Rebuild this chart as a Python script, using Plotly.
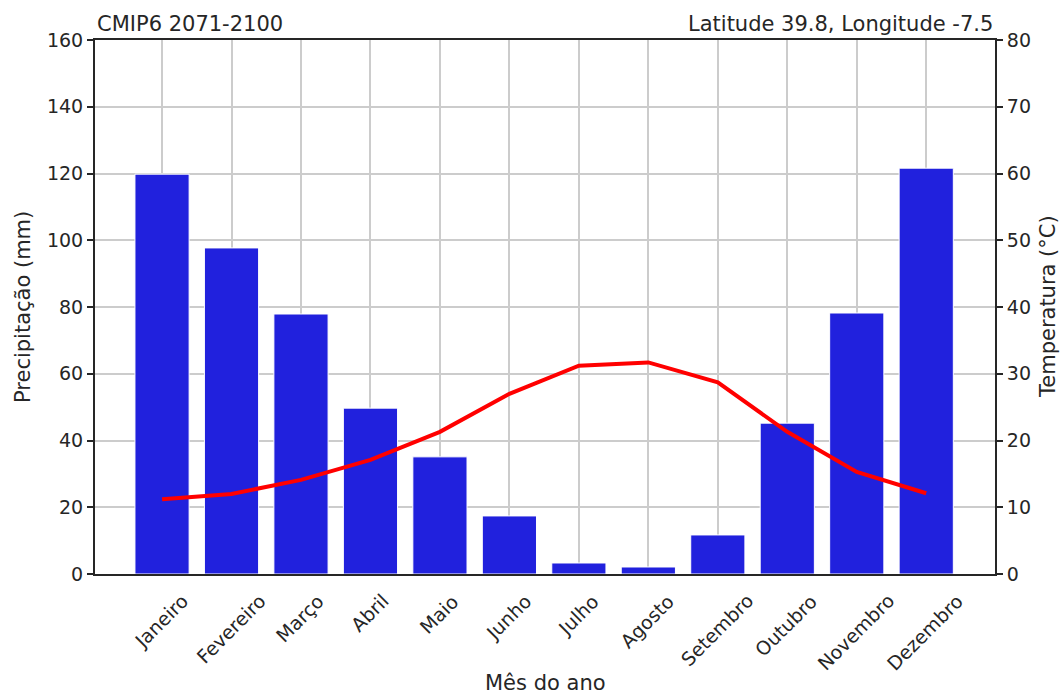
import plotly.graph_objects as go

months = ["Janeiro", "Fevereiro", "Março", "Abril", "Maio", "Junho", "Julho",
          "Agosto", "Setembro", "Outubro", "Novembro", "Dezembro"]
precip_mm = [119.8, 97.7, 77.9, 49.7, 35.1, 17.4, 3.3, 2.1, 11.7, 45.2, 78.2, 121.6]
temp_c = [11.2, 12.0, 14.1, 17.1, 21.3, 27.0, 31.2, 31.7, 28.7, 21.3, 15.3, 12.1]

left_ticks = [0, 20, 40, 60, 80, 100, 120, 140, 160]
right_ticks = [0, 10, 20, 30, 40, 50, 60, 70, 80]

FONT = "DejaVu Sans"
TXT = "#262626"
x_idx = list(range(len(months)))

fig = go.Figure()
fig.add_trace(go.Bar(
    x=x_idx, y=precip_mm, width=0.78,
    marker=dict(color="#2121dd", line=dict(color="#ffffff", width=1)),
    yaxis="y", showlegend=False,
))
fig.add_trace(go.Scatter(
    x=x_idx, y=temp_c, mode="lines",
    line=dict(color="#ff0000", width=4),
    yaxis="y2", showlegend=False,
))

annotations = [
    dict(text="CMIP6 2071-2100", xref="paper", yref="paper", x=0, y=1,
         xanchor="left", yanchor="bottom", yshift=2, showarrow=False,
         font=dict(size=21, family=FONT, color=TXT)),
    dict(text="Latitude 39.8, Longitude -7.5", xref="paper", yref="paper", x=1, y=1,
         xanchor="right", yanchor="bottom", yshift=2, showarrow=False,
         font=dict(size=21, family=FONT, color=TXT)),
    dict(text="Mês do ano", xref="paper", yref="paper", x=0.5, y=0,
         xanchor="center", yanchor="middle", yshift=-109, showarrow=False,
         font=dict(size=21, family=FONT, color=TXT)),
    dict(text="Precipitação (mm)", xref="paper", yref="paper", x=0, y=0.5,
         xanchor="center", yanchor="middle", xshift=-72, textangle=-90, showarrow=False,
         font=dict(size=21, family=FONT, color=TXT)),
    dict(text="Temperatura (°C)", xref="paper", yref="paper", x=1, y=0.5,
         xanchor="center", yanchor="middle", xshift=53, textangle=-90, showarrow=False,
         font=dict(size=21, family=FONT, color=TXT)),
]
for i, m in zip(x_idx, months):
    annotations.append(dict(
        text=m, xref="x", yref="paper", x=i, y=0, xanchor="center", yanchor="top",
        yshift=-13, xshift=-1, textangle=-45, showarrow=False,
        font=dict(size=19, family=FONT, color=TXT)))

fig.update_layout(
    width=1061, height=695,
    margin=dict(l=95, r=66, t=40, b=121, autoexpand=False),
    paper_bgcolor="white", plot_bgcolor="white",
    font=dict(family=FONT, size=19, color=TXT),
    xaxis=dict(
        tickmode="array", tickvals=x_idx, showticklabels=False,
        range=[-0.965, 11.99], showgrid=True, gridcolor="#cccccc", gridwidth=1.5,
        showline=True, linecolor="#262626", linewidth=2, mirror=True,
        ticks="", zeroline=False, automargin=False,
    ),
    yaxis=dict(
        range=[0, 160], tickmode="array", tickvals=left_ticks,
        showgrid=True, gridcolor="#cccccc", gridwidth=1.5,
        showline=True, linecolor="#262626", linewidth=2,
        ticks="outside", ticklen=6, tickwidth=1.5, tickcolor="#262626",
        zeroline=False, automargin=False,
        tickfont=dict(size=19, family=FONT, color=TXT),
    ),
    yaxis2=dict(
        range=[0, 80], tickmode="array", tickvals=right_ticks,
        overlaying="y", side="right", showgrid=False,
        showline=True, linecolor="#262626", linewidth=2,
        ticks="outside", ticklen=6, tickwidth=1.5, tickcolor="#262626",
        zeroline=False, automargin=False,
        tickfont=dict(size=19, family=FONT, color=TXT),
    ),
    annotations=annotations,
)

fig.write_html(
    "out.html",
    config={"displayModeBar": False},
    post_script="document.body.style.margin='0';document.body.style.overflow='hidden';",
)
